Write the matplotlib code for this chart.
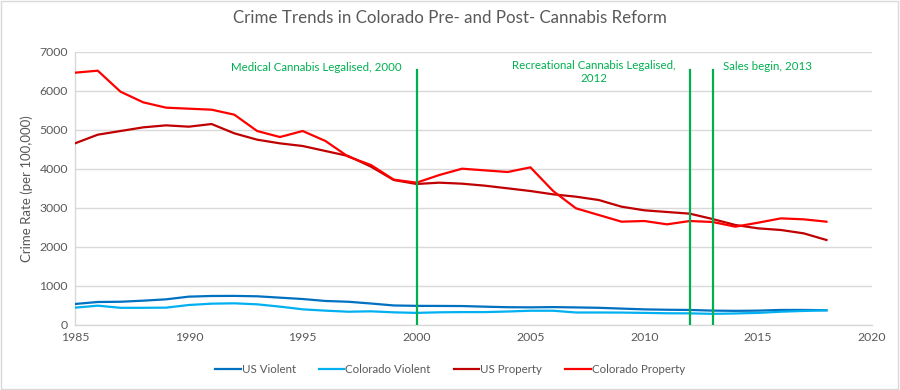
import numpy as np
import matplotlib.pyplot as plt
from matplotlib.patches import Rectangle

# === DATA ===
years = list(range(1985, 2019))

us_violent = [538, 589, 595, 623, 657, 726, 743, 745, 735, 700, 665, 615, 595, 550,
              500, 490, 488, 485, 469, 455, 452, 458, 450, 440, 420, 400, 390, 385,
              368, 362, 368, 385, 385, 378]
co_violent = [444, 495, 440, 440, 444, 512, 546, 555, 529, 470, 401, 367, 340, 350,
              324, 310, 325, 330, 330, 345, 365, 365, 320, 320, 318, 310, 300, 298,
              285, 295, 310, 340, 360, 375]
us_property = [4652, 4874, 4968, 5062, 5113, 5079, 5147, 4908, 4746, 4652, 4584, 4456,
               4328, 4055, 3713, 3611, 3645, 3619, 3568, 3500, 3431, 3346, 3286, 3201,
               3030, 2937, 2894, 2851, 2714, 2561, 2475, 2433, 2347, 2177]
co_property = [6462, 6513, 5975, 5702, 5566, 5540, 5514, 5386, 4968, 4814, 4968, 4712,
               4311, 4097, 3722, 3645, 3841, 4003, 3960, 3918, 4037, 3430, 2988, 2817,
               2646, 2663, 2578, 2663, 2638, 2518, 2620, 2731, 2706, 2646]

series_names = ['US Violent', 'Colorado Violent', 'US Property', 'Colorado Property']
series_colors = ['#0070C0', '#00B0F0', '#C00000', '#FF0000']

event_years = [2000, 2012, 2013]
event_labels = ['Medical Cannabis Legalised, 2000',
                'Recreational Cannabis Legalised,\n2012',
                'Sales begin, 2013']

# === PLOT ===
plt.rcParams['font.family'] = ['Lato', 'DejaVu Sans']
grey = '#595959'
green = '#00B050'

fig = plt.figure(figsize=(9, 3.9), dpi=100)
ax = fig.add_axes([0.0833, 0.1667, 0.8856, 0.7008])

for vals, name, col in zip([us_violent, co_violent, us_property, co_property],
                           series_names, series_colors):
    ax.plot(years, vals, color=col, lw=1.6, label=name, zorder=3)

for yr in event_years:
    ax.plot([yr, yr], [0, 6530], color=green, lw=1.6, zorder=4)

ax.text(1995.6, 6600, event_labels[0], color=green, fontsize=8.3,
        ha='center', va='center')
ax.text(2007.8, 6470, event_labels[1], color=green, fontsize=8.3,
        ha='center', va='center', linespacing=1.25)
ax.text(2013.45, 6630, event_labels[2], color=green, fontsize=8.3,
        ha='left', va='center')

ax.set_xlim(1985, 2020)
ax.set_ylim(0, 7000)
ax.set_xticks(range(1985, 2021, 5))
ax.set_yticks(range(0, 7001, 1000))
ax.tick_params(length=0, labelsize=8.8, labelcolor=grey, pad=5)
ax.grid(axis='y', color='#D9D9D9', lw=1)
ax.set_axisbelow(True)
for s in ['top', 'right']:
    ax.spines[s].set_visible(False)
for s in ['left', 'bottom']:
    ax.spines[s].set_color('#D9D9D9')
    ax.spines[s].set_linewidth(1)

ax.set_ylabel('Crime Rate (per 100,000)', fontsize=9.5, color=grey, labelpad=5)
fig.text(0.5, 0.955, 'Crime Trends in Colorado Pre- and Post- Cannabis Reform',
         ha='center', va='center', fontsize=12.2, color=grey)

fig.legend(loc='center', bbox_to_anchor=(0.5, 0.052), ncol=4, frameon=False,
           fontsize=8.3, labelcolor=grey, handlelength=2.2, handletextpad=0.1,
           columnspacing=2.0)

fig.patches.append(Rectangle((0.001, 0.002), 0.997, 0.996, transform=fig.transFigure,
                             fill=False, edgecolor='#D9D9D9', lw=1))

plt.savefig('out.png', dpi=100)
